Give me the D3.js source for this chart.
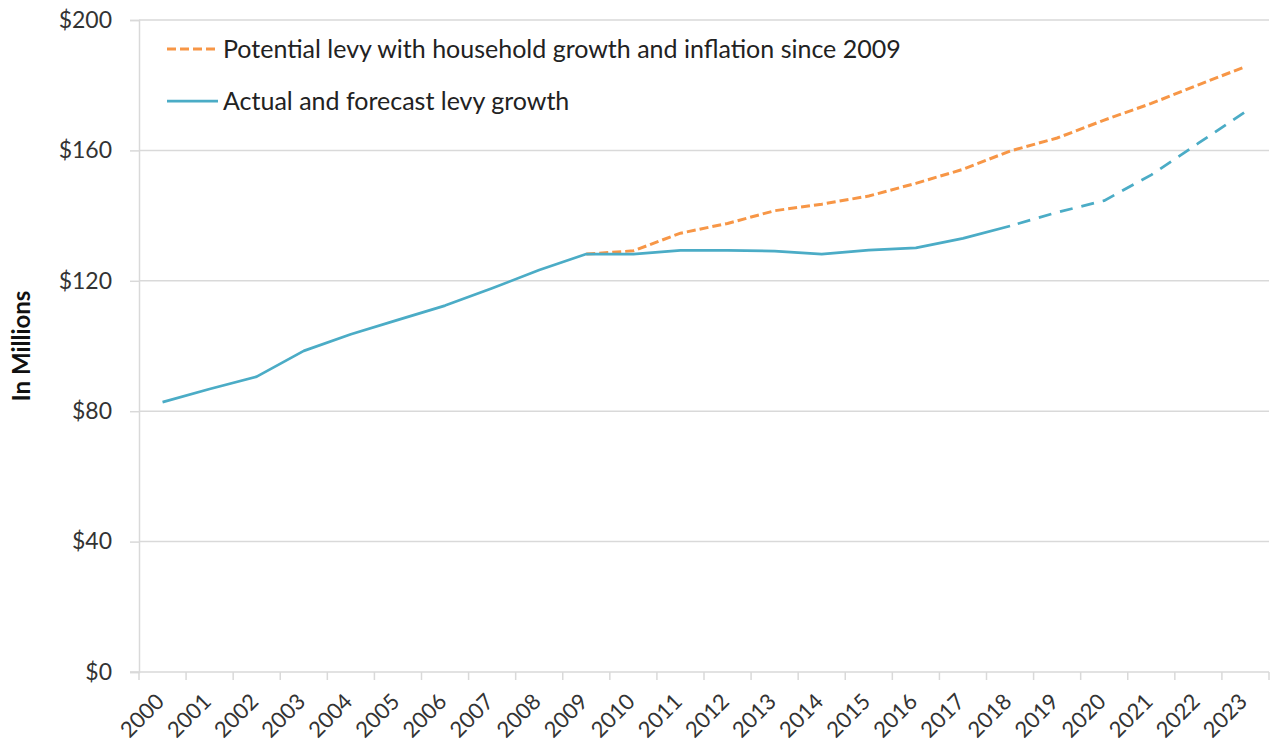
<!DOCTYPE html>
<html>
<head>
<meta charset="utf-8">
<script src="https://cdn.jsdelivr.net/npm/d3@7"></script>
<style>
  body { margin: 0; background: #fff; }
  svg { display: block; font-family: Lato, "Open Sans", sans-serif; }
</style>
</head>
<body>
<div id="chart"></div>
<script>
// Levy data, in millions of dollars
const years = ['2000', '2001', '2002', '2003', '2004', '2005', '2006', '2007', '2008', '2009', '2010', '2011',
    '2012', '2013', '2014', '2015', '2016', '2017', '2018', '2019', '2020', '2021', '2022', '2023'];

// actual up to 2018, forecast after that
const levyGrowth = [82.8, 86.8, 90.6, 98.5, 103.6, 108.0, 112.4, 117.7, 123.3, 128.2, 128.2, 129.3,
    129.3, 129.1, 128.2, 129.4, 130.1, 133.0, 136.8, 141.0, 144.6, 152.5, 162.2, 171.9];
const lastActualYear = '2018';

// potential levy starts in 2009
const potentialLevy = [null, null, null, null, null, null, null, null, null, 128.2, 129.2, 134.6,
    137.6, 141.5, 143.5, 146.0, 149.9, 154.2, 159.8, 163.8, 169.3, 174.4, 180.1, 185.7];

const yTicks = [0, 40, 80, 120, 160, 200];

const legendItems = ['Potential levy with household growth and inflation since 2009', 'Actual and forecast levy growth'];

const width = 1275;
const height = 743;
const margin = { top: 20, right: 6, bottom: 71, left: 139 };

const blue = '#4BACC6';
const orange = '#F79646';
const gridColor = '#d9d9d9';

const svg = d3.select('#chart').append('svg')
    .attr('width', width)
    .attr('height', height);

const x = d3.scaleBand()
    .domain(years)
    .range([margin.left, width - margin.right]);

const y = d3.scaleLinear()
    .domain([0, 200])
    .range([height - margin.bottom, margin.top]);

const cx = d => x(d) + x.bandwidth() / 2;

// gridlines (skip $0, that's the axis)
svg.append('g')
    .selectAll('line')
    .data(yTicks.filter(v => v > 0))
    .join('line')
    .attr('x1', margin.left)
    .attr('x2', width - margin.right)
    .attr('y1', d => y(d))
    .attr('y2', d => y(d))
    .attr('stroke', gridColor)
    .attr('stroke-width', 1.5);

// y axis
const yAxis = svg.append('g')
    .attr('transform', `translate(${margin.left},0)`)
    .call(d3.axisLeft(y).tickValues(yTicks).tickSize(9).tickPadding(18).tickFormat(d => '$' + d));
yAxis.select('.domain').attr('stroke', gridColor).attr('stroke-width', 1.5);
yAxis.selectAll('.tick line').attr('stroke', gridColor).attr('stroke-width', 1.5);
yAxis.selectAll('.tick text')
    .attr('font-family', 'Lato, sans-serif')
    .attr('font-size', '23px')
    .attr('fill', '#333');

// x axis, ticks between categories
const xAxisY = height - margin.bottom;
svg.append('line')
    .attr('x1', margin.left - 9)
    .attr('x2', width - margin.right)
    .attr('y1', xAxisY)
    .attr('y2', xAxisY)
    .attr('stroke', gridColor)
    .attr('stroke-width', 1.5);

svg.append('g')
    .selectAll('line')
    .data(years.concat(['end']))
    .join('line')
    .attr('x1', (d, i) => margin.left + i * x.bandwidth())
    .attr('x2', (d, i) => margin.left + i * x.bandwidth())
    .attr('y1', xAxisY)
    .attr('y2', xAxisY + 8)
    .attr('stroke', gridColor)
    .attr('stroke-width', 1.5);

svg.append('g')
    .selectAll('text')
    .data(years)
    .join('text')
    .attr('transform', d => `translate(${cx(d) + 3},${xAxisY + 31}) rotate(-45)`)
    .attr('text-anchor', 'end')
    .attr('font-size', '22px')
    .attr('fill', '#333')
    .text(d => d);

// y axis title
svg.append('text')
    .attr('transform', `translate(30,${y(100)}) rotate(-90)`)
    .attr('text-anchor', 'middle')
    .attr('font-size', '24px')
    .attr('font-weight', 'bold')
    .attr('fill', '#111')
    .text('In Millions');

// series
const pts = years.map((yr, i) => ({ yr, actual: levyGrowth[i], potential: potentialLevy[i] }));
const cut = years.indexOf(lastActualYear);

const line = d3.line().x(d => cx(d.yr)).y(d => y(d.v));

svg.append('path')
    .datum(pts.filter(d => d.potential != null).map(d => ({ yr: d.yr, v: d.potential })))
    .attr('d', line)
    .attr('fill', 'none')
    .attr('stroke', orange)
    .attr('stroke-width', 3)
    .attr('stroke-dasharray', '9,4');

svg.append('path')
    .datum(pts.slice(0, cut + 1).map(d => ({ yr: d.yr, v: d.actual })))
    .attr('d', line)
    .attr('fill', 'none')
    .attr('stroke', blue)
    .attr('stroke-width', 2.75)
    .attr('stroke-linejoin', 'round');

svg.append('path')
    .datum(pts.slice(cut).map(d => ({ yr: d.yr, v: d.actual })))
    .attr('d', line)
    .attr('fill', 'none')
    .attr('stroke', blue)
    .attr('stroke-width', 2.75)
    .attr('stroke-dasharray', '13,9')
    .attr('stroke-dashoffset', -8);

// legend
const legend = svg.append('g').attr('transform', 'translate(167,49)');
const legendStyles = [
    { color: orange, dash: '9,4', width: 3 },
    { color: blue, dash: null, width: 2.75 }
];
legendItems.forEach((label, i) => {
    const g = legend.append('g').attr('transform', `translate(0,${i * 52})`);
    g.append('line')
        .attr('x1', 0).attr('x2', 51)
        .attr('stroke', legendStyles[i].color)
        .attr('stroke-width', legendStyles[i].width)
        .attr('stroke-dasharray', legendStyles[i].dash);
    g.append('text')
        .attr('x', 56)
        .attr('dy', '0.35em')
        .attr('font-size', '25px')
        .attr('fill', '#222')
        .text(label);
});
</script>
</body>
</html>
